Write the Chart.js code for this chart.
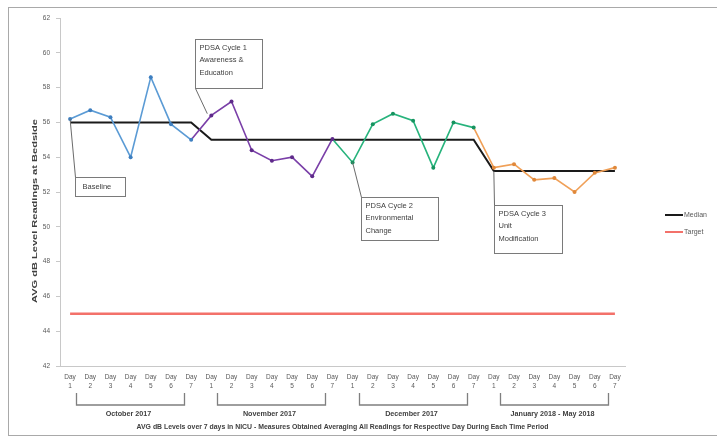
<!DOCTYPE html>
<html>
<head>
<meta charset="utf-8">
<script src="https://cdn.jsdelivr.net/npm/chart.js@4/dist/chart.umd.min.js"></script>
<style>
  html, body { margin: 0; padding: 0; background: #ffffff; }
  #wrap { position: relative; width: 717px; height: 439px; }
</style>
</head>
<body>
<div id="wrap"><canvas id="c" width="717" height="439"></canvas></div>
<script>
// Daily average dB readings, one array per time period (Day 1 .. Day 7)
const dayNumbers = ['1', '2', '3', '4', '5', '6', '7'];
const periods = ['October 2017', 'November 2017', 'December 2017', 'January 2018 - May 2018'];
const october = [56.2, 56.7, 56.3, 54.0, 58.6, 55.9, 55.0];
const november = [56.4, 57.2, 54.4, 53.8, 54.0, 52.9, 55.05];
const december = [53.7, 55.9, 56.5, 56.1, 53.4, 56.0, 55.7];
const janToMay = [53.4, 53.6, 52.7, 52.8, 52.0, 53.1, 53.4];
const medianByPeriod = [56, 55, 55, 53.2];
const targetLevel = 45;
const yTicks = [42, 44, 46, 48, 50, 52, 54, 56, 58, 60, 62];

// Built from the arrays above
const periodSeries = [october, november, december, janToMay];
const readings = periodSeries.flat();
const labels = periodSeries.flatMap(() => dayNumbers.map(d => ['Day', d]));
const median = periodSeries.flatMap((s, i) => s.map(() => medianByPeriod[i]));
const target = readings.map(() => targetLevel);

const lineColors = ['#5b9bd5', '#7a3fa8', '#27b37c', '#f0a058'];
const dotColors = ['#3e7fc0', '#5e2a8a', '#16935f', '#e0883a'];
const FONT = "'Liberation Sans', Arial, sans-serif";
const TEXT = '#404040';

// Callout boxes: anchored to the category index / value scale
const callouts = [
  { from: [0, october[0]], at: [0.25, 52.85], w: 50, h: 19, lines: ['Baseline'] },
  { from: [6.8, 56.5], at: [6.19, 60.8], w: 67, h: 49, lines: ['PDSA Cycle 1', 'Awareness &', 'Education'], corner: 'bl' },
  { from: [14, december[0]], at: [14.4, 51.7], w: 77, h: 43, lines: ['PDSA Cycle 2', 'Environmental', 'Change'] },
  { from: [21, medianByPeriod[3]], at: [21, 51.25], w: 68, h: 48, lines: ['PDSA Cycle 3', 'Unit', 'Modification'] }
];

const decorations = {
  id: 'decorations',
  beforeDraw(chart) {
    const ctx = chart.ctx;
    ctx.save();
    ctx.fillStyle = '#ffffff';
    ctx.fillRect(0, 0, chart.width, chart.height);
    ctx.strokeStyle = '#a9a9a9';
    ctx.lineWidth = 1;
    ctx.strokeRect(8.5, 7.5, 730, 428);
    ctx.restore();
  },
  afterDraw(chart) {
    const ctx = chart.ctx;
    const xs = chart.scales.x, ys = chart.scales.y;
    const area = chart.chartArea;
    const px = i => xs.getPixelForValue(i);
    const py = v => ys.getPixelForValue(v);
    const fx = i => {
      const a = Math.floor(i), f = i - a;
      return f === 0 ? px(a) : px(a) + f * (px(a + 1) - px(a));
    };
    ctx.save();

    // callouts
    callouts.forEach(c => {
      const bx = Math.round(fx(c.at[0])) + 0.5;
      const by = Math.round(py(c.at[1])) + 0.5;
      ctx.strokeStyle = '#6b6b6b';
      ctx.lineWidth = 1;
      ctx.beginPath();
      ctx.moveTo(fx(c.from[0]), py(c.from[1]));
      if (c.corner === 'bl') ctx.lineTo(bx, by + c.h);
      else ctx.lineTo(bx, by);
      ctx.stroke();
      ctx.fillStyle = '#ffffff';
      ctx.fillRect(bx, by, c.w, c.h);
      ctx.strokeStyle = '#7a7a7a';
      ctx.strokeRect(bx, by, c.w, c.h);
      ctx.fillStyle = TEXT;
      ctx.font = '7.5px ' + FONT;
      ctx.textBaseline = 'middle';
      ctx.textAlign = 'left';
      const pad = c.lines.length === 1 ? 7 : 4;
      const first = c.lines.length === 1 ? c.h / 2 : 8;
      c.lines.forEach((t, k) => ctx.fillText(t, bx + pad, by + first + k * 12.5));
    });

    // period brackets and names
    ctx.strokeStyle = '#7f7f7f';
    ctx.lineWidth = 1.3;
    periods.forEach((name, g) => {
      const x0 = Math.round(px(g * 7) + 6) + 0.5;
      const x1 = Math.round(px(g * 7 + 6) - 7) + 0.5;
      ctx.beginPath();
      ctx.moveTo(x0, 393);
      ctx.lineTo(x0, 405);
      ctx.lineTo(x1, 405);
      ctx.lineTo(x1, 393);
      ctx.stroke();
      ctx.fillStyle = TEXT;
      ctx.font = 'bold 7.2px ' + FONT;
      ctx.textAlign = 'center';
      ctx.textBaseline = 'middle';
      ctx.fillText(name, (x0 + x1) / 2 - 2, 414);
    });

    // axis titles
    ctx.fillStyle = TEXT;
    ctx.font = 'bold 6.9px ' + FONT;
    ctx.textAlign = 'center';
    ctx.textBaseline = 'middle';
    ctx.fillText('AVG dB Levels over 7 days in NICU - Measures Obtained Averaging All Readings for Respective Day During Each Time Period', (area.left + area.right) / 2, 427);

    ctx.save();
    ctx.translate(35, 211);
    ctx.rotate(-Math.PI / 2);
    ctx.scale(1.3, 0.85);
    ctx.font = 'bold 8.5px ' + FONT;
    ctx.fillText('AVG dB Level Readings at Bedside', 0, 0);
    ctx.restore();

    // legend
    const leg = [['Median', '#1a1a1a', 215], ['Target', '#f3716a', 232]];
    leg.forEach(([name, col, y]) => {
      ctx.strokeStyle = col;
      ctx.lineWidth = 2;
      ctx.beginPath();
      ctx.moveTo(665, y);
      ctx.lineTo(683, y);
      ctx.stroke();
      ctx.fillStyle = '#595959';
      ctx.font = '7px ' + FONT;
      ctx.textAlign = 'left';
      ctx.fillText(name, 684, y + 0.5);
    });
    ctx.restore();
  }
};

new Chart(document.getElementById('c'), {
  type: 'line',
  data: {
    labels: labels,
    datasets: [
      {
        label: 'AVG dB',
        data: readings,
        borderWidth: 1.6,
        borderColor: lineColors[0],
        segment: { borderColor: c => lineColors[Math.floor(c.p1DataIndex / 7)] },
        pointRadius: 2,
        pointBorderWidth: 0,
        pointBackgroundColor: readings.map((_, i) => dotColors[Math.floor(i / 7)]),
        tension: 0,
        order: 0
      },
      {
        label: 'Median',
        data: median,
        borderColor: '#1a1a1a',
        borderWidth: 2,
        pointRadius: 0,
        tension: 0,
        order: 1
      },
      {
        label: 'Target',
        data: target,
        borderColor: '#f3716a',
        borderWidth: 2.5,
        pointRadius: 0,
        tension: 0,
        order: 2
      }
    ]
  },
  options: {
    responsive: false,
    animation: false,
    events: [],
    layout: { padding: { top: 18, right: 92, left: 0, bottom: 0 } },
    plugins: { legend: { display: false }, tooltip: { enabled: false } },
    scales: {
      x: {
        type: 'category',
        offset: true,
        grid: { display: false, drawTicks: false },
        border: { color: '#c8c8c8', width: 1 },
        ticks: {
          autoSkip: false, maxRotation: 0, minRotation: 0, padding: 6,
          color: '#595959', font: { size: 6.5, family: FONT, lineHeight: 1.5 }
        },
        afterFit(s) { s.height = 73; }
      },
      y: {
        min: 42, max: 62,
        afterBuildTicks(s) { s.ticks = yTicks.map(v => ({ value: v })); },
        grid: { drawOnChartArea: false, drawTicks: true, tickLength: 4, color: '#c8c8c8' },
        border: { color: '#c8c8c8', width: 1 },
        ticks: { padding: 6, color: '#595959', font: { size: 6.5, family: FONT } },
        afterFit(s) { s.width = 60; }
      }
    }
  },
  plugins: [decorations]
});
</script>
</body>
</html>
